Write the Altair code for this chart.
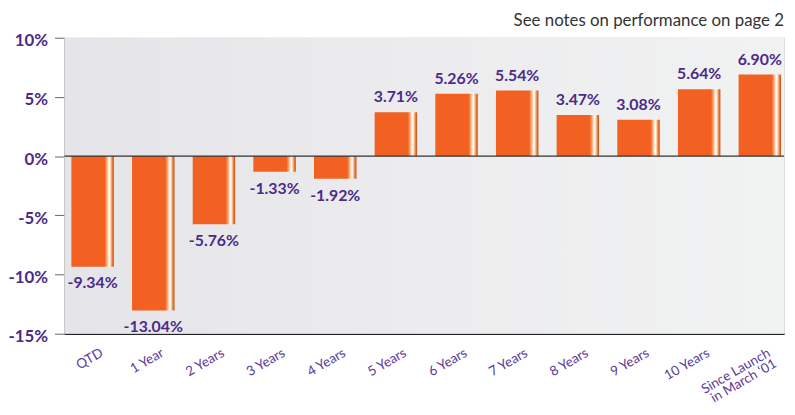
import altair as alt
import pandas as pd

categories = ["QTD", "1 Year", "2 Years", "3 Years", "4 Years", "5 Years",
              "6 Years", "7 Years", "8 Years", "9 Years", "10 Years",
              "Since Launch in March \u201801"]
values = [-9.34, -13.04, -5.76, -1.33, -1.92, 3.71, 5.26, 5.54, 3.47, 3.08, 5.64, 6.90]
y_ticks = [-15, -10, -5, 0, 5, 10]
note = "See notes on performance on page 2"

df = pd.DataFrame({"cat": categories, "val": values})
df["label"] = [f"{v:.2f}%" for v in values]
df["pos"] = [v >= 0 for v in values]

PURPLE = "#4b2a88"
FONT = "Lato"

bg = alt.Chart(alt.Data(values=[{}])).mark_rect(
    color=alt.LinearGradient(
        gradient="linear", x1=0, x2=1, y1=0, y2=0,
        stops=[alt.GradientStop(offset=0, color="#e5e5e9"),
               alt.GradientStop(offset=0.5, color="#ececee"),
               alt.GradientStop(offset=1, color="#f1f2f2")]
    )
).encode(x=alt.value(0), x2=alt.value("width"), y=alt.value(0), y2=alt.value("height"))

bar_grad = alt.LinearGradient(
    gradient="linear", x1=0, x2=1, y1=0, y2=0,
    stops=[alt.GradientStop(offset=0, color="#f26122"),
           alt.GradientStop(offset=0.78, color="#f26122"),
           alt.GradientStop(offset=0.83, color="#f7a066"),
           alt.GradientStop(offset=0.87, color="#fde4d0"),
           alt.GradientStop(offset=0.9, color="#ffffff"),
           alt.GradientStop(offset=0.93, color="#f9c49a"),
           alt.GradientStop(offset=0.97, color="#e8702e"),
           alt.GradientStop(offset=1, color="#b5521c")]
)

x_scale = alt.Scale(paddingInner=0.3, paddingOuter=0.082, align=0.7)
x_enc = alt.X("cat:N", sort=categories, scale=x_scale,
              axis=alt.Axis(title=None, labelAngle=-30, labelAlign="right",
                            labelBaseline="top", labelPadding=12, labelOffset=6,
                            ticks=False,
                            domainColor="#222222", domainWidth=1.5,
                            labelFont=FONT, labelFontSize=13.5, labelColor="#5b3b98",
                            labelLineHeight=12.5,
                            labelExpr="datum.label == 'Since Launch in March \u201801' ? ['Since Launch', 'in March \u201801'] : datum.label"))
y_enc = alt.Y("val:Q", scale=alt.Scale(domain=[-15, 10], nice=False),
              axis=alt.Axis(title=None, values=y_ticks, labelExpr="datum.value + '%'",
                            tickSize=10, tickColor="#666666", domainColor="#666666",
                            gridColor="#dddcee", gridWidth=1.2,
                            labelFont=FONT, labelFontSize=17, labelFontWeight="bold",
                            labelColor=PURPLE, labelPadding=7, labelOffset=3))

base = alt.Chart(df)
bars = base.mark_bar(color=bar_grad).encode(x=x_enc, y=y_enc)
zero = alt.Chart(alt.Data(values=[{}])).mark_rule(color="#333333", strokeWidth=1.5).encode(y=alt.datum(0))

txt_pos = base.transform_filter("datum.pos").mark_text(
    font=FONT, fontSize=16, fontWeight="bold", color=PURPLE, baseline="bottom", dy=-7
).encode(x=alt.X("cat:N", sort=categories, scale=x_scale), y="val:Q", text="label:N")
txt_neg = base.transform_filter("!datum.pos").mark_text(
    font=FONT, fontSize=16, fontWeight="bold", color=PURPLE, baseline="top", dy=9
).encode(x=alt.X("cat:N", sort=categories, scale=x_scale), y="val:Q", text="label:N")

title_txt = alt.Chart(alt.Data(values=[{"t": note}])).mark_text(
    font=FONT, fontSize=17, color="#333333", align="right", baseline="alphabetic"
).encode(x=alt.value("width"), y=alt.value(-12), text="t:N")

chart = alt.layer(bg, bars, zero, txt_pos, txt_neg, title_txt).properties(
    width=727, height=299,
    autosize=alt.AutoSizeParams(type="none"),
    padding={"left": 57, "top": 28, "right": 3, "bottom": 70},
).configure_view(stroke=None).configure(background="white")

chart.save("out.html", embed_options={"renderer": "svg", "actions": False})
